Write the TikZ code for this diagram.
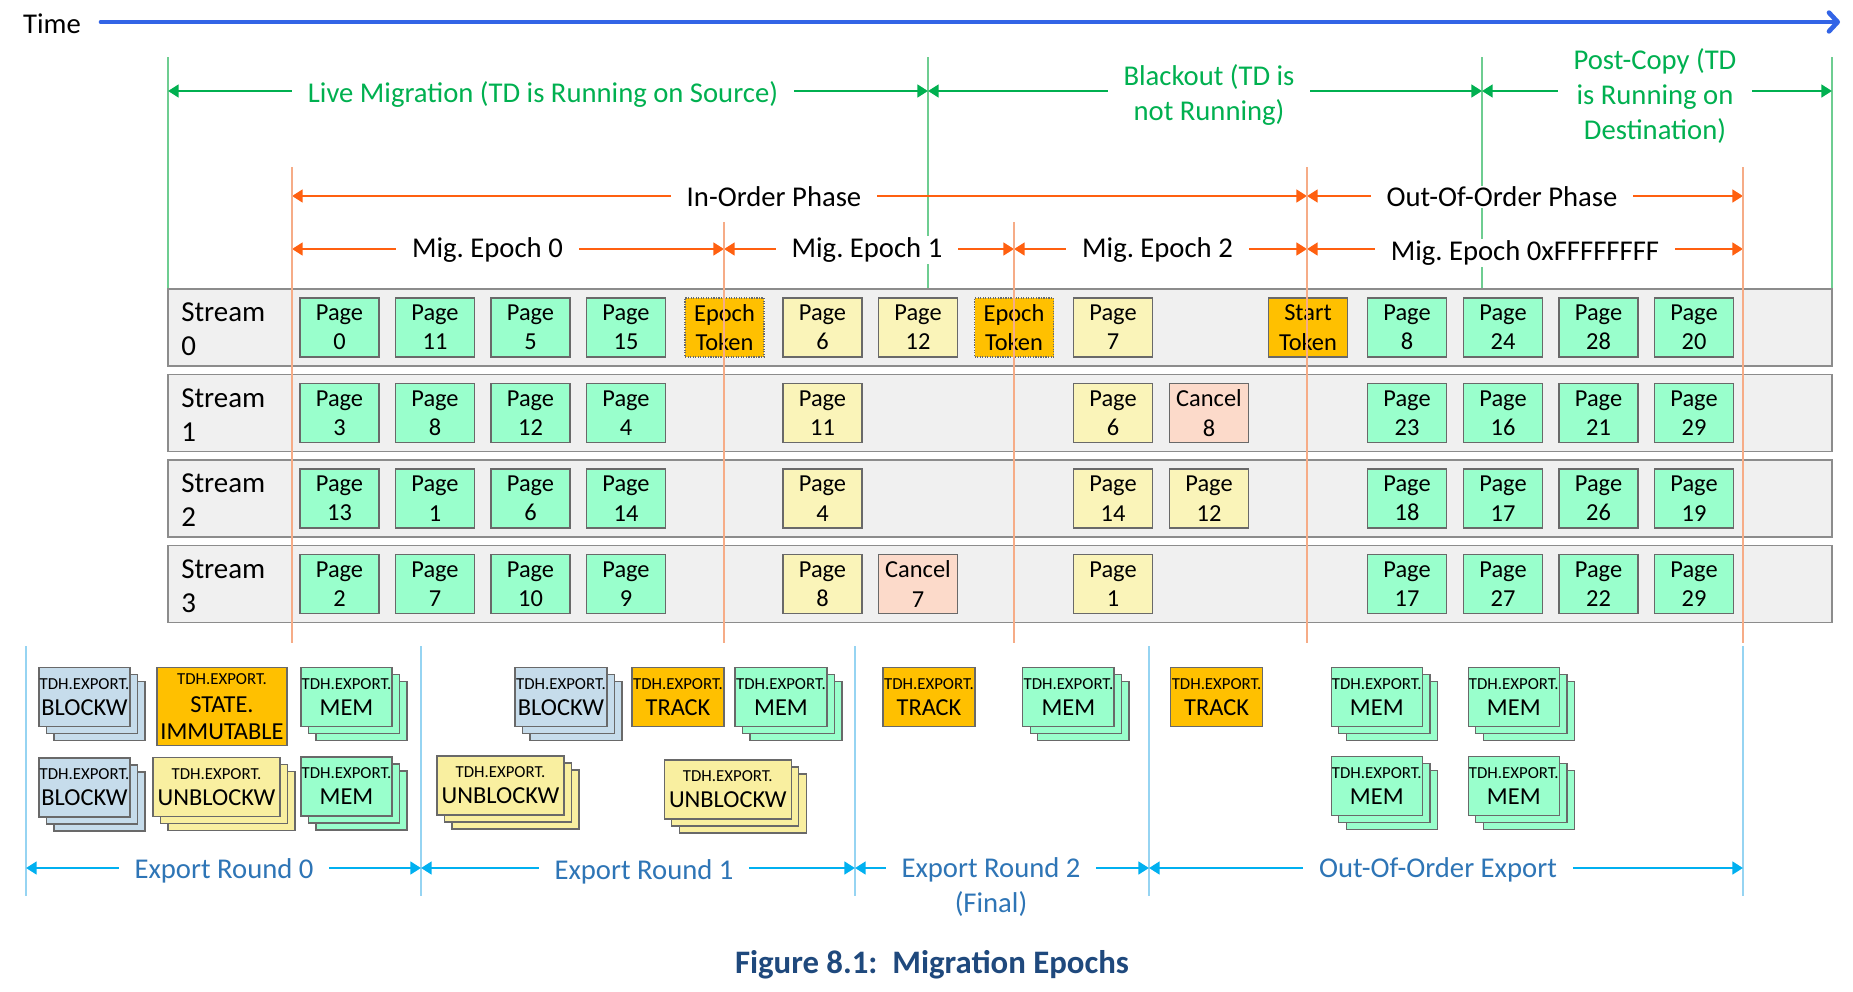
\documentclass[tikz,border=0pt]{standalone}
\usepackage{fontspec}
\setmainfont{Carlito}
\usetikzlibrary{arrows.meta}
\definecolor{tgreen}{RGB}{0,176,80}
\definecolor{tgreenl}{RGB}{110,205,145}
\definecolor{torange}{RGB}{255,96,16}
\definecolor{torangel}{RGB}{246,172,135}
\definecolor{tblue}{RGB}{0,176,240}
\definecolor{tbluel}{RGB}{150,212,242}
\definecolor{ttext}{RGB}{46,117,182}
\definecolor{timeblue}{RGB}{50,100,230}
\definecolor{mint}{RGB}{153,255,204}
\definecolor{pyellow}{RGB}{250,244,185}
\definecolor{uyellow}{RGB}{249,239,160}
\definecolor{gold}{RGB}{255,192,0}
\definecolor{salmon}{RGB}{252,218,202}
\definecolor{steel}{RGB}{198,220,235}
\definecolor{bandfill}{RGB}{240,240,240}
\definecolor{bandline}{RGB}{140,140,140}
\definecolor{boxline}{RGB}{105,105,105}
\definecolor{capblue}{RGB}{31,73,125}
\newcommand\tdhfont{\fontsize{12.6}{14}\selectfont}
\newcommand\xstack[6]{%
  \node[xb, fill=#5, minimum width=#4] (#1c) at (#2+15,#3+14) {};
  \node[xb, fill=#5, minimum width=#4] (#1b) at (#2+7.5,#3+7) {};
  \node[xb, fill=#5, minimum width=#4] (#1) at (#2,#3) {#6};}
\tikzset{
  biglbl/.style={font=\fontsize{21.5}{26}\selectfont, inner sep=0pt},
  lbl/.style={font=\fontsize{21.5}{26}\selectfont, fill=white, inner xsep=12pt, inner ysep=1pt, align=center},
  glbl/.style={lbl, text=tgreen},
  olbl/.style={lbl, text=black},
  blbl/.style={lbl, text=ttext},
  tipT/.tip={Triangle[length=8pt,width=9.5pt]},
  garrow/.style={draw=tgreen, line width=2pt, tipT-tipT},
  oarrow/.style={draw=torange, line width=2pt, tipT-tipT},
  barrow/.style={draw=tblue, line width=2pt, tipT-tipT},
  timearrow/.style={draw=timeblue, line width=3.5pt, line cap=round, -{Straight Barb[length=6.5pt,width=14pt,line cap=round,line join=round]}},
  vgreen/.style={draw=tgreenl, line width=1pt},
  vorange/.style={draw=torangel, line width=1.1pt},
  vblue/.style={draw=tbluel, line width=1pt},
  bandbox/.style={draw=bandline, fill=bandfill, line width=1.3pt, minimum width=1248pt, minimum height=57.75pt, inner sep=0pt},
  streamlbl/.style={font=\fontsize{21.7}{25.5}\selectfont, align=left, inner sep=0pt, anchor=west},
  pg/.style={draw=boxline, line width=0.9pt, minimum width=59.25pt, minimum height=44.25pt, inner sep=0pt, align=center, font=\fontsize{18.3}{22}\selectfont},
  pgm/.style={pg, fill=mint},
  pgy/.style={pg, fill=pyellow},
  pgc/.style={pg, fill=salmon},
  pgt/.style={pg, fill=gold, densely dotted},
  pgs/.style={pg, fill=gold},
  xb/.style={draw=boxline, line width=0.9pt, minimum height=44.25pt, inner sep=0pt, align=center, font=\fontsize{18.3}{19.5}\selectfont},
}
\begin{document}
\frenchspacing
\begin{tikzpicture}[x=0.75pt, y=-0.75pt]
\useasboundingbox (0,0) rectangle (1853,992);
\fill[white] (0,0) rectangle (1853,992);

% Time axis
\node[biglbl] (time) at (52,24) {Time};
\coordinate (t0) at (101,22);
\coordinate (t1) at (1840,22);
\draw[timearrow] (t0) -- (t1);

% vertical green lines
\foreach \x [count=\i] in {168,928,1482,1832} {
  \coordinate (vgt\i) at (\x,57);
  \coordinate (vgb\i) at (\x,289);
  \draw[vgreen] (vgt\i) -- (vgb\i);
}
% vertical blue lines
\foreach \x [count=\i] in {26,421,855,1149,1743} {
  \coordinate (vbt\i) at (\x,646);
  \coordinate (vbb\i) at (\x,896);
  \draw[vblue] (vbt\i) -- (vbb\i);
}

% green phase arrows
\coordinate (g1) at (168,91);
\coordinate (g2) at (928,91);
\coordinate (g3) at (1482,91);
\coordinate (g4) at (1832,91);
\draw[garrow] (g1) -- (g2);
\draw[garrow] (g2) -- (g3);
\draw[garrow] (g3) -- (g4);
\node[glbl] (live) at (543,94) {Live Migration (TD is Running on Source)};
\node[glbl] (black) at (1209,95) {Blackout (TD is\\not Running)};
\node[glbl] (post) at (1655,96) {Post-Copy (TD\\is Running on\\Destination)};

% orange phase arrows
\coordinate (o1) at (292,196);
\coordinate (o2) at (1307,196);
\coordinate (o3) at (1743,196);
\draw[oarrow] (o1) -- (o2);
\draw[oarrow] (o2) -- (o3);
\node[olbl] (inord) at (774,197) {In-Order Phase};
\node[olbl] (ooord) at (1502,197) {Out-Of-Order Phase};

% epoch arrows
\coordinate (e1) at (292,249);
\coordinate (e2) at (724,249);
\coordinate (e3) at (1014,249);
\coordinate (e4) at (1307,249);
\coordinate (e5) at (1743,249);
\draw[oarrow] (e1) -- (e2);
\draw[oarrow] (e2) -- (e3);
\draw[oarrow] (e3) -- (e4);
\draw[oarrow] (e4) -- (e5);
\node[olbl] (ep0) at (487.5,250) {Mig. Epoch 0};
\node[olbl] (ep1) at (867,250) {Mig. Epoch 1};
\node[olbl] (ep2) at (1157.5,250) {Mig. Epoch 2};
\node[olbl] (epf) at (1525,253) {Mig. Epoch 0xFFFFFFFF};

% stream bands
\foreach \y [count=\i from 0] in {327.5,413,498.5,584} {
  \node[bandbox] (band\i) at (1000,\y) {};
  \node[streamlbl] (slbl\i) at (181,\y+2) {Stream\\\i};
}

% stream 0
\foreach \c/\x/\n in {0/339.5/0,1/435/11,2/530.5/5,3/626/15,11/1407/8,12/1503/24,13/1598.5/28,14/1694/20}
  \node[pgm] (a\c) at (\x,327.5) {Page\\\n};
\foreach \c/\x/\n in {5/822.5/6,6/918/12,8/1113/7}
  \node[pgy] (a\c) at (\x,327.5) {Page\\\n};
\node[pgt] (a4) at (724.5,327.5) {Epoch\\Token};
\node[pgt] (a7) at (1014,327.5) {Epoch\\Token};
\node[pgs] (a10) at (1308,327.5) {Start\\Token};

% stream 1
\foreach \c/\x/\n in {0/339.5/3,1/435/8,2/530.5/12,3/626/4,11/1407/23,12/1503/16,13/1598.5/21,14/1694/29}
  \node[pgm] (b\c) at (\x,413) {Page\\\n};
\foreach \c/\x/\n in {5/822.5/11,8/1113/6}
  \node[pgy] (b\c) at (\x,413) {Page\\\n};
\node[pgc] (b9) at (1209,413) {Cancel\\8};

% stream 2
\foreach \c/\x/\n in {0/339.5/13,1/435/1,2/530.5/6,3/626/14,11/1407/18,12/1503/17,13/1598.5/26,14/1694/19}
  \node[pgm] (c\c) at (\x,498.5) {Page\\\n};
\foreach \c/\x/\n in {5/822.5/4,8/1113/14,9/1209/12}
  \node[pgy] (c\c) at (\x,498.5) {Page\\\n};

% stream 3
\foreach \c/\x/\n in {0/339.5/2,1/435/7,2/530.5/10,3/626/9,11/1407/17,12/1503/27,13/1598.5/22,14/1694/29}
  \node[pgm] (d\c) at (\x,584) {Page\\\n};
\foreach \c/\x/\n in {5/822.5/8,8/1113/1}
  \node[pgy] (d\c) at (\x,584) {Page\\\n};
\node[pgc] (d6) at (918,584) {Cancel\\7};

% orange vertical lines
\foreach \x/\t [count=\i] in {292/167,724/222,1014/222,1307/167,1743/167} {
  \coordinate (vot\i) at (\x,\t);
  \coordinate (vob\i) at (\x,643);
  \draw[vorange] (vot\i) -- (vob\i);
}

% export commands
\xstack{x1}{84.5}{697.2}{68.25pt}{steel}{{\tdhfont TDH.EXPORT.}\\BLOCKW}
\node[xb, fill=gold, minimum width=97.5pt, minimum height=58.5pt, font=\fontsize{18.3}{20.5}\selectfont] (x2) at (222,706.7) {{\tdhfont TDH.EXPORT.}\\STATE.\\IMMUTABLE};
\xstack{x3}{346.5}{697.2}{68.25pt}{mint}{{\tdhfont TDH.EXPORT.}\\MEM}
\xstack{x4}{84.5}{787.5}{68.25pt}{steel}{{\tdhfont TDH.EXPORT.}\\BLOCKW}
\xstack{x5}{216.5}{787.2}{95.25pt}{uyellow}{{\tdhfont TDH.EXPORT.}\\UNBLOCKW}
\xstack{x6}{346.5}{786.4}{68.25pt}{mint}{{\tdhfont TDH.EXPORT.}\\MEM}

\xstack{x7}{500.5}{785.5}{95.25pt}{uyellow}{{\tdhfont TDH.EXPORT.}\\UNBLOCKW}
\xstack{x8}{561}{697.2}{69pt}{steel}{{\tdhfont TDH.EXPORT.}\\BLOCKW}
\node[xb, fill=gold, minimum width=69pt] (x9) at (678,697.2) {{\tdhfont TDH.EXPORT.}\\TRACK};
\xstack{x10}{781}{697.2}{69pt}{mint}{{\tdhfont TDH.EXPORT.}\\MEM}
\xstack{x11}{727.8}{789.4}{95.25pt}{uyellow}{{\tdhfont TDH.EXPORT.}\\UNBLOCKW}

\node[xb, fill=gold, minimum width=69pt] (x12) at (929,697.2) {{\tdhfont TDH.EXPORT.}\\TRACK};
\xstack{x13}{1068.4}{697.2}{68.5pt}{mint}{{\tdhfont TDH.EXPORT.}\\MEM}

\node[xb, fill=gold, minimum width=69pt] (x14) at (1216.6,697.2) {{\tdhfont TDH.EXPORT.}\\TRACK};
\xstack{x15}{1376.8}{697.2}{68.5pt}{mint}{{\tdhfont TDH.EXPORT.}\\MEM}
\xstack{x16}{1513.8}{697.2}{68.5pt}{mint}{{\tdhfont TDH.EXPORT.}\\MEM}
\xstack{x17}{1376.8}{786.2}{68.5pt}{mint}{{\tdhfont TDH.EXPORT.}\\MEM}
\xstack{x18}{1513.8}{786.2}{68.5pt}{mint}{{\tdhfont TDH.EXPORT.}\\MEM}

% export arrows
\coordinate (r1) at (26,868);
\coordinate (r2) at (421,868);
\coordinate (r3) at (855,868);
\coordinate (r4) at (1149,868);
\coordinate (r5) at (1743,868);
\draw[barrow] (r1) -- (r2);
\draw[barrow] (r2) -- (r3);
\draw[barrow] (r3) -- (r4);
\draw[barrow] (r4) -- (r5);
\node[blbl] (er0) at (224,871) {Export Round 0};
\node[blbl] (er1) at (644,872) {Export Round 1};
\node[blbl] (er2) at (991,887) {Export Round 2\\(Final)};
\node[blbl] (eoo) at (1438,870) {Out-Of-Order Export};

% caption
\node[font=\bfseries\fontsize{24.6}{29}\selectfont, text=capblue, inner sep=0pt] (cap) at (932,965) {Figure 8.1:\ \ Migration Epochs};
\end{tikzpicture}
\end{document}
